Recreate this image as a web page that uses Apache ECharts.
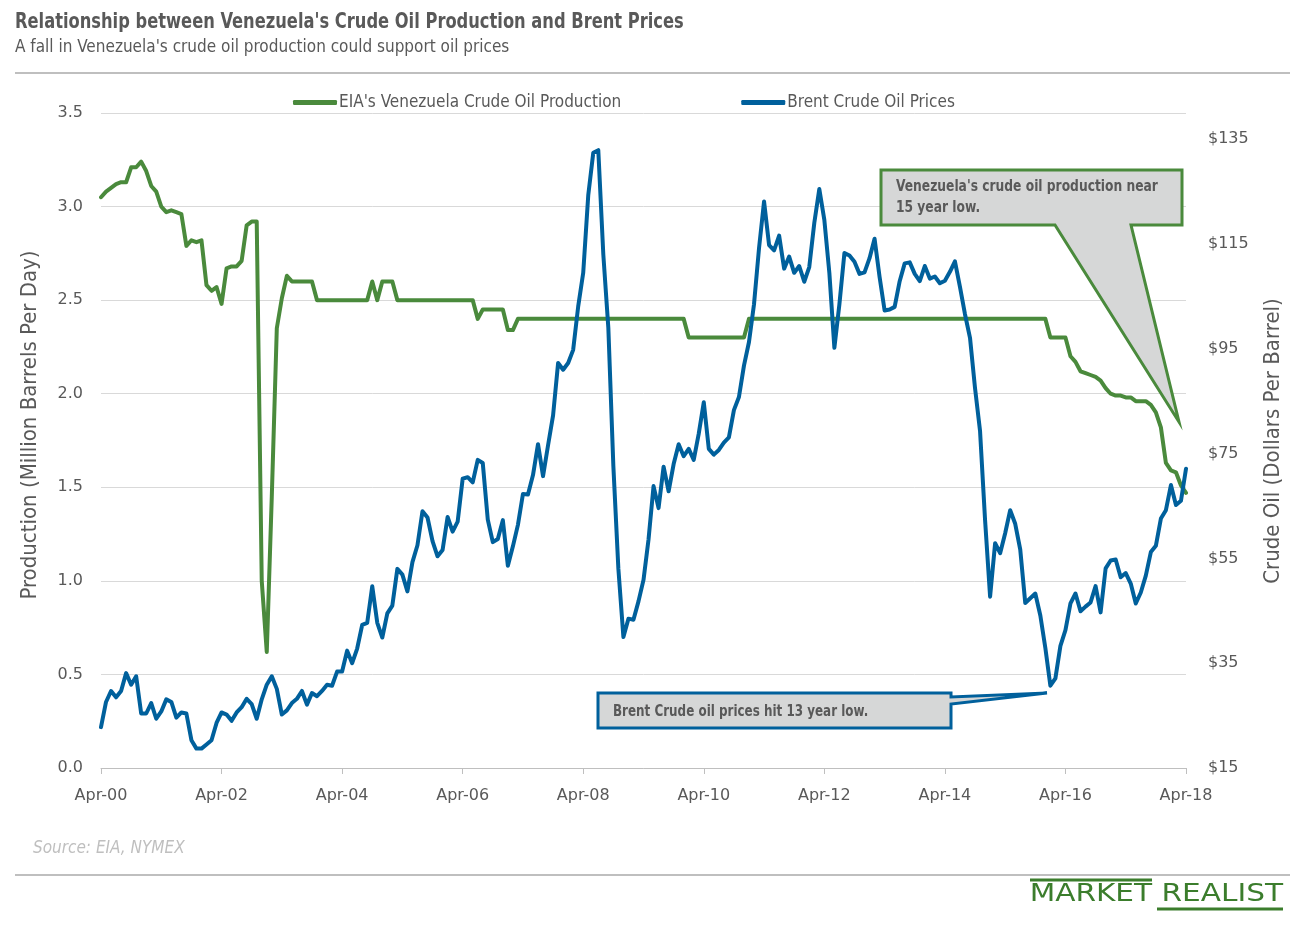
<!DOCTYPE html>
<html><head><meta charset="utf-8">
<script src="https://cdn.jsdelivr.net/npm/echarts@6/dist/echarts.min.js"></script>
<style>html,body{margin:0;padding:0;background:#fff}#c{width:1306px;height:936px}</style>
</head><body><div id="c"></div>
<script>
// ---------- data ----------
const monthAbbr = ['Jan','Feb','Mar','Apr','May','Jun','Jul','Aug','Sep','Oct','Nov','Dec'];
const startYear = 2000, startMonthIdx = 3, monthCount = 217; // Apr-00 .. Apr-18
const months = [];
for (let i = 0; i < monthCount; i++) {
  const mi = startMonthIdx + i;
  const y = startYear + Math.floor(mi / 12);
  months.push(monthAbbr[mi % 12] + '-' + String(y % 100).padStart(2, '0'));
}

// Venezuela crude oil production (million barrels per day), monthly Apr-00 .. Apr-18
const production = [
  3.05,3.08,3.10,3.12,3.13,3.13,3.21,3.21,3.24,3.19,3.11,3.08,
  3.00,2.97,2.98,2.97,2.96,2.79,2.82,2.81,2.82,2.58,2.55,2.57,
  2.48,2.67,2.68,2.68,2.71,2.90,2.92,2.92,1.00,0.62,1.45,2.35,
  2.51,2.63,2.60,2.60,2.60,2.60,2.60,2.50,2.50,2.50,2.50,2.50,
  2.50,2.50,2.50,2.50,2.50,2.50,2.60,2.50,2.60,2.60,2.60,2.50,
  2.50,2.50,2.50,2.50,2.50,2.50,2.50,2.50,2.50,2.50,2.50,2.50,
  2.50,2.50,2.50,2.40,2.45,2.45,2.45,2.45,2.45,2.34,2.34,2.40,
  2.40,2.40,2.40,2.40,2.40,2.40,2.40,2.40,2.40,2.40,2.40,2.40,
  2.40,2.40,2.40,2.40,2.40,2.40,2.40,2.40,2.40,2.40,2.40,2.40,
  2.40,2.40,2.40,2.40,2.40,2.40,2.40,2.40,2.40,2.30,2.30,2.30,
  2.30,2.30,2.30,2.30,2.30,2.30,2.30,2.30,2.30,2.40,2.40,2.40,
  2.40,2.40,2.40,2.40,2.40,2.40,2.40,2.40,2.40,2.40,2.40,2.40,
  2.40,2.40,2.40,2.40,2.40,2.40,2.40,2.40,2.40,2.40,2.40,2.40,
  2.40,2.40,2.40,2.40,2.40,2.40,2.40,2.40,2.40,2.40,2.40,2.40,
  2.40,2.40,2.40,2.40,2.40,2.40,2.40,2.40,2.40,2.40,2.40,2.40,
  2.40,2.40,2.40,2.40,2.40,2.40,2.40,2.40,2.40,2.30,2.30,2.30,
  2.30,2.20,2.17,2.12,2.11,2.10,2.09,2.07,2.03,2.00,1.99,1.99,
  1.98,1.98,1.96,1.96,1.96,1.94,1.90,1.82,1.63,1.59,1.58,1.51,
  1.47
];

// Brent crude oil price ($/bbl), monthly Apr-00 .. Apr-18
const brent = [
  22.8,27.6,29.7,28.5,29.7,33.1,30.9,32.5,25.4,
  25.4,27.4,24.4,25.8,28.1,27.6,24.6,25.6,25.4,20.3,18.7,18.7,
  19.5,20.3,23.6,25.6,25.2,24.0,25.6,26.6,28.2,27.2,24.4,28.1,
  30.9,32.5,30.1,25.2,26.0,27.4,28.2,29.7,27.1,29.3,28.7,29.7,
  30.9,30.7,33.4,33.4,37.4,35.0,37.8,42.3,42.7,49.7,42.7,39.9,
  44.5,46.0,53.0,51.9,48.7,54.3,57.5,64.0,62.8,58.3,55.4,56.6,
  62.9,60.1,62.0,70.2,70.5,69.5,73.8,73.2,62.4,58.1,58.7,62.3,
  53.6,57.3,61.4,67.3,67.2,70.9,76.8,70.7,76.6,82.3,92.3,91.0,
  92.3,94.8,103.1,109.5,124.3,132.4,132.9,113.0,99.0,72.6,53.0,40.0,
  43.5,43.3,46.8,50.9,58.6,68.8,64.6,72.5,67.8,73.0,76.8,74.5,
  75.9,73.8,78.8,84.8,75.9,74.8,75.7,77.1,78.1,83.3,85.8,91.8,
  96.3,103.5,114.2,123.1,114.8,113.8,116.6,110.3,112.6,109.5,110.8,107.8,
  110.6,119.0,125.5,119.6,109.5,95.2,103.5,113.3,112.8,111.6,109.3,109.6,
  112.3,116.0,108.7,102.3,102.5,103.0,107.9,111.3,111.5,109.3,107.9,110.8,
  108.4,108.8,107.5,108.0,109.7,111.7,106.8,101.6,97.1,87.5,79.3,62.3,
  47.7,57.9,56.0,59.8,64.2,61.6,56.7,46.5,47.4,48.3,44.1,37.9,
  30.7,32.1,38.3,41.3,46.4,48.3,44.9,45.8,46.6,49.7,44.7,53.1,
  54.6,54.8,51.4,52.2,50.2,46.4,48.5,51.7,56.2,57.4,62.6,64.2,
  69.0,65.2,66.0,72.1
];

const seriesNames = ["EIA's Venezuela Crude Oil Production", "Brent Crude Oil Prices"];
const prodAxis = {min: 0, max: 3.5, interval: 0.5};
const priceAxis = {min: 15, max: 140, interval: 20};

// ---------- styles ----------
const NARROW = "'Liberation Sans Narrow','DejaVu Sans Condensed','Arial Narrow',sans-serif";
const TICKFONT = "'DejaVu Sans',sans-serif";
const GRAY = '#595959';
const GREEN = '#4a8a3c';
const BLUE = '#00609c';
const FILL = '#d6d7d7';
const LOGO = '#3b7d2c';

const chart = echarts.init(document.getElementById('c'), null, {renderer: 'canvas'});
chart.setOption({
  animation: false,
  backgroundColor: '#ffffff',
  legend: {
    left: 288, top: 89, itemWidth: 44, itemHeight: 5, itemGap: 120,
    icon: 'roundRect',
    textStyle: {fontFamily: NARROW, fontSize: 17, color: GRAY, padding: [0,0,0,-3]},
    data: seriesNames
  },
  grid: {left: 101, right: 120, top: 113, bottom: 168, containLabel: false},
  xAxis: {
    type: 'category', data: months, boundaryGap: false,
    axisLine: {lineStyle: {color: '#bfbfbf', width: 1}},
    axisTick: {interval: 23, length: 6, lineStyle: {color: '#bfbfbf'}},
    axisLabel: {interval: 23, margin: 20, fontFamily: TICKFONT, fontSize: 16, color: GRAY},
    splitLine: {show: false}
  },
  yAxis: [
    {
      type: 'value', min: prodAxis.min, max: prodAxis.max, interval: prodAxis.interval,
      axisLine: {show: false}, axisTick: {show: false},
      axisLabel: {margin: 18, fontFamily: TICKFONT, fontSize: 16, color: GRAY,
        formatter: v => v.toFixed(1)},
      splitLine: {lineStyle: {color: '#d9d9d9', width: 1}}
    },
    {
      type: 'value', position: 'right', min: priceAxis.min, max: priceAxis.max, interval: priceAxis.interval,
      axisLine: {show: false}, axisTick: {show: false},
      axisLabel: {margin: 22, fontFamily: TICKFONT, fontSize: 16, color: GRAY, showMaxLabel: false,
        formatter: v => (v > 139 ? '' : '$' + v)},
      splitLine: {show: false}
    }
  ],
  series: [
    {
      name: seriesNames[0], type: 'line', yAxisIndex: 0, data: production,
      showSymbol: false, symbol: 'none', color: GREEN,
      lineStyle: {width: 4, color: GREEN, join: 'round', cap: 'round'}, z: 3
    },
    {
      name: seriesNames[1], type: 'line', yAxisIndex: 1, data: brent,
      showSymbol: false, symbol: 'none', color: BLUE,
      lineStyle: {width: 4, color: BLUE, join: 'round', cap: 'round'}, z: 4
    }
  ],
  graphic: [
    {type: 'text', x: 15, y: 22, scaleX: 0.823,
      style: {text: "Relationship between Venezuela's Crude Oil Production and Brent Prices",
        font: 'bold 22px ' + NARROW, fill: GRAY, textVerticalAlign: 'middle'}},
    {type: 'text', x: 15, y: 48,
      style: {text: "A fall in Venezuela's crude oil production could support oil prices",
        font: '17px ' + NARROW, fill: GRAY, textVerticalAlign: 'middle'}},
    {type: 'line', shape: {x1: 15, y1: 73, x2: 1290, y2: 73}, style: {stroke: '#bfbfbf', lineWidth: 2}},
    {type: 'line', shape: {x1: 15, y1: 875, x2: 1290, y2: 875}, style: {stroke: '#bfbfbf', lineWidth: 2}},
    {type: 'text', x: 30, y: 425, rotation: Math.PI / 2,
      style: {text: 'Production (Million Barrels Per Day)', font: '22px ' + NARROW, fill: GRAY,
        textAlign: 'center', textVerticalAlign: 'middle'}},
    {type: 'text', x: 1273, y: 441, rotation: Math.PI / 2,
      style: {text: 'Crude Oil (Dollars Per Barrel)', font: '22px ' + NARROW, fill: GRAY,
        textAlign: 'center', textVerticalAlign: 'middle'}},
    {type: 'polygon', z: 10,
      shape: {points: [[881,170],[1182,170],[1182,225],[1131,225],[1179,422],[1055,225],[881,225]]},
      style: {fill: FILL, stroke: GREEN, lineWidth: 3, lineJoin: 'miter'}},
    {type: 'text', z: 11, x: 896, y: 187, scaleX: 0.91,
      style: {text: "Venezuela's crude oil production near", font: 'bold 15px ' + NARROW, fill: GRAY,
        textVerticalAlign: 'middle'}},
    {type: 'text', z: 11, x: 896, y: 208, scaleX: 0.91,
      style: {text: '15 year low.', font: 'bold 15px ' + NARROW, fill: GRAY, textVerticalAlign: 'middle'}},
    {type: 'polygon', z: 10,
      shape: {points: [[598,693],[951,693],[951,697],[1047,693],[951,704],[951,728],[598,728]]},
      style: {fill: FILL, stroke: BLUE, lineWidth: 3, lineJoin: 'miter'}},
    {type: 'text', z: 11, x: 613, y: 712, scaleX: 0.885,
      style: {text: 'Brent Crude oil prices hit 13 year low.', font: 'bold 15px ' + NARROW, fill: GRAY,
        textVerticalAlign: 'middle'}},
    {type: 'text', x: 33, y: 849,
      style: {text: 'Source: EIA, NYMEX', font: 'italic 17px ' + NARROW, fill: '#bfbfbf', textVerticalAlign: 'middle'}},
    {type: 'line', shape: {x1: 1030, y1: 880, x2: 1152, y2: 880}, style: {stroke: LOGO, lineWidth: 3}},
    {type: 'line', shape: {x1: 1157, y1: 909, x2: 1283, y2: 909}, style: {stroke: LOGO, lineWidth: 3}},
    {type: 'text', x: 1283, y: 895, scaleX: 1.37,
      style: {text: 'MARKET REALIST', font: '24px ' + NARROW, fill: LOGO,
        textAlign: 'right', textVerticalAlign: 'middle'}}
  ]
});
</script></body></html>
